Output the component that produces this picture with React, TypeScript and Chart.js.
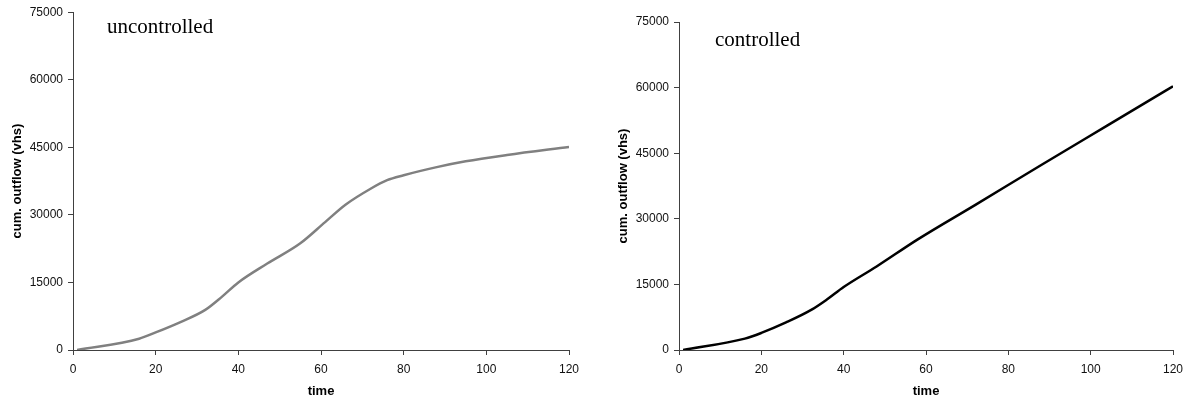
import React, { useEffect, useRef } from "react";
import { Chart, registerables } from "chart.js";

Chart.register(...registerables);

// ---- data ----
const xTicksMax = 120;
const yTicksMax = 75000;
const xStep = 20;
const yStep = 15000;

const uncontrolledTime = [1, 16, 20, 26, 32, 36, 40, 47, 55, 61, 66, 72, 76, 80, 88, 95, 105, 120];
const uncontrolledOutflow = [0, 2500, 3900, 6200, 8900, 11800, 15000, 19200, 23700, 28400, 32300, 35800, 37700, 38800, 40600, 41900, 43300, 45100];

const controlledTime = [1, 16, 20, 26, 32, 36, 40, 48, 58, 72, 88, 104, 120];
const controlledOutflow = [0, 2600, 3900, 6300, 9100, 11600, 14400, 19100, 25300, 33200, 42300, 51300, 60300];

const xTitle = "time";
const yTitle = "cum. outflow (vhs)";
const leftLabel = "uncontrolled";
const rightLabel = "controlled";

const AXIS_COLOR = "#404040";
const TICK_FONT = { family: "Arial, 'Liberation Sans', sans-serif", size: 12 };
const TITLE_FONT = { family: "Arial, 'Liberation Sans', sans-serif", size: 13, weight: "bold" as const };

type PanelProps = {
  times: number[];
  values: number[];
  color: string;
  label: string;
  width: number;
  left: number;
  padTop: number;
  padRight: number;
  labelDx: number;
  labelDy: number;
};

function Panel(p: PanelProps) {
  const ref = useRef<HTMLCanvasElement | null>(null);
  useEffect(() => {
    if (!ref.current) return;
    const labelPlugin = {
      id: "cornerLabel",
      afterDraw(chart: any) {
        const { ctx, chartArea } = chart;
        ctx.save();
        ctx.font = "21px 'Liberation Serif', 'Times New Roman', serif";
        ctx.fillStyle = "#000";
        ctx.textAlign = "left";
        ctx.textBaseline = "alphabetic";
        ctx.fillText(p.label, chartArea.left + p.labelDx, chartArea.top + p.labelDy);
        ctx.restore();
      },
    };
    const chart = new Chart(ref.current, {
      type: "line",
      data: {
        datasets: [
          {
            data: p.times.map((t, i) => ({ x: t, y: p.values[i] })),
            borderColor: p.color,
            borderWidth: 2.5,
            pointRadius: 0,
            cubicInterpolationMode: "monotone",
            fill: false,
          },
        ],
      },
      options: {
        responsive: false,
        animation: false,
        devicePixelRatio: 1,
        layout: { padding: { top: p.padTop, right: p.padRight, bottom: 0, left: 0 } },
        plugins: { legend: { display: false }, tooltip: { enabled: false } },
        scales: {
          x: {
            type: "linear",
            min: 0,
            max: xTicksMax,
            ticks: {
              stepSize: xStep,
              color: "#111",
              font: TICK_FONT,
              padding: 7,
              maxRotation: 0,
              callback: (v: any) => String(v),
            },
            grid: { drawOnChartArea: false, drawTicks: true, tickLength: 5, color: AXIS_COLOR },
            border: { display: true, color: AXIS_COLOR, width: 1 },
            title: { display: true, text: xTitle, color: "#000", font: TITLE_FONT, padding: { top: 0, bottom: 3 } },
            afterFit(s: any) {
              s.height = 52;
            },
          },
          y: {
            type: "linear",
            min: 0,
            max: yTicksMax,
            ticks: { stepSize: yStep, color: "#111", font: TICK_FONT, padding: 5, callback: (v: any) => String(v) },
            grid: { drawOnChartArea: false, drawTicks: true, tickLength: 5, color: AXIS_COLOR },
            border: { display: true, color: AXIS_COLOR, width: 1 },
            title: { display: true, text: yTitle, color: "#000", font: TITLE_FONT, padding: { top: 10, bottom: 0 } },
            afterFit(s: any) {
              s.width = 73;
            },
          },
        },
      },
      plugins: [labelPlugin],
    });
    return () => chart.destroy();
  }, []);
  return (
    <canvas
      ref={ref}
      width={p.width}
      height={402}
      style={{ position: "absolute", left: p.left, top: 0, width: p.width, height: 402 }}
    />
  );
}

export default function App() {
  return (
    <div
      style={{
        position: "fixed",
        left: 0,
        top: 0,
        width: 1185,
        height: 402,
        background: "#fff",
        overflow: "hidden",
      }}
    >
      <Panel
        times={uncontrolledTime}
        values={uncontrolledOutflow}
        color="#808080"
        label={leftLabel}
        width={590}
        left={0}
        padTop={11}
        padRight={21}
        labelDx={34}
        labelDy={21}
      />
      <Panel
        times={controlledTime}
        values={controlledOutflow}
        color="#000000"
        label={rightLabel}
        width={590}
        left={606}
        padTop={22}
        padRight={23}
        labelDx={36}
        labelDy={24}
      />
    </div>
  );
}
